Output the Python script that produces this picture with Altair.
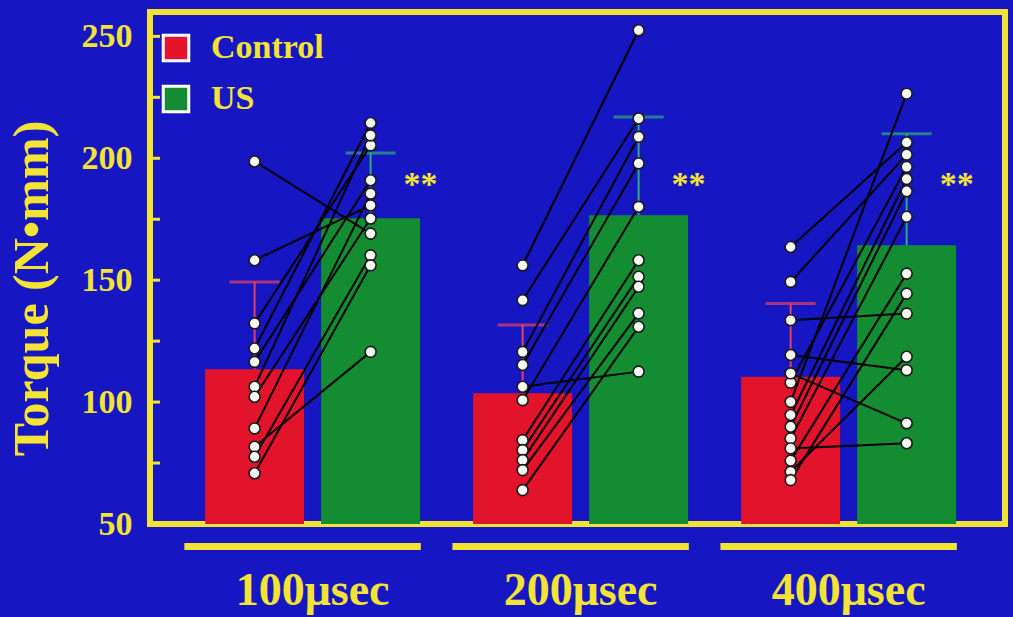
import altair as alt
import pandas as pd

# ---- data -------------------------------------------------------------
groups = ["100μsec", "200μsec", "400μsec"]
conditions = ["Control", "US"]

# paired torque readings (N·mm): entry k of Control pairs with entry k of US
control_100 = [198.7, 158.2, 132.3, 122.0, 116.5, 106.3, 102.2, 89.2, 81.7, 77.6, 70.8]
us_100 = [169.1, 180.7, 205.3, 214.5, 191.0, 209.4, 175.3, 185.5, 120.6, 160.2, 156.1]

control_200 = [156.1, 141.8, 120.6, 115.2, 106.3, 100.8, 84.4, 80.3, 76.2, 72.1, 63.9]
us_200 = [252.5, 216.3, 208.8, 197.9, 112.5, 180.1, 158.2, 151.4, 147.3, 136.4, 130.9]

control_400 = [163.6, 149.3, 133.6, 119.3, 108.0, 111.8, 100.1, 94.7, 89.9, 85.1, 81.0, 76.0, 71.4, 68.0]
us_400 = [206.5, 201.5, 136.3, 113.1, 196.5, 91.3, 226.5, 191.5, 186.5, 176.0, 83.1, 152.7, 118.6, 144.5]

# group means and standard deviations
control_mean = [113.5, 103.6, 110.4]
control_sd = [35.8, 28.0, 30.0]
us_mean = [175.4, 176.6, 164.3]
us_sd = [26.8, 40.3, 45.8]

significance = ["**", "**", "**"]
tick_values = [75, 100, 125, 150, 175, 200, 225, 250]
label_values = [50, 100, 150, 200, 250]

# ---- styling ----------------------------------------------------------
BLUE = "#1616c2"
YELLOW = "#f2e335"
RED = "#e2142c"
GREEN = "#138c32"
ERR_RED = "#e5415e"
ERR_GREEN = "#2fae7c"
SERIF = "Liberation Serif"

# ---- tables -----------------------------------------------------------
paired = {
    "100μsec": (control_100, us_100),
    "200μsec": (control_200, us_200),
    "400μsec": (control_400, us_400),
}
rows = []
for g, (ctrl, us) in paired.items():
    for k, (cv, uv) in enumerate(zip(ctrl, us)):
        sid = f"{g}-{k}"
        rows.append({"group": g, "condition": "Control", "subject": sid, "torque": cv})
        rows.append({"group": g, "condition": "US", "subject": sid, "torque": uv})
points = pd.DataFrame(rows)

summary = pd.DataFrame({
    "group": groups * 2,
    "condition": ["Control"] * 3 + ["US"] * 3,
    "mean": control_mean + us_mean,
    "sd": control_sd + us_sd,
})
summary["upper"] = summary["mean"] + summary["sd"]

stars = pd.DataFrame({"group": groups, "condition": ["US"] * 3, "label": significance})
ticks = pd.DataFrame({"tick": tick_values})
group_df = pd.DataFrame({"group": groups})

# ---- shared scales and axes ---------------------------------------------
x_scale = alt.Scale(domain=groups, paddingInner=0.198, paddingOuter=0.194, align=0.53)
y_scale = alt.Scale(domain=[50, 260], nice=False, zero=False)
Y_TITLE = "Torque (N•mm)"

x_axis = alt.Axis(
    labelAngle=0, domain=False, ticks=False, grid=False,
    labelFont=SERIF, labelFontWeight="bold", labelFontSize=46,
    labelColor=YELLOW, labelPadding=44,
)
y_axis = alt.Axis(
    values=label_values, domain=False, ticks=False, grid=False,
    labelFont=SERIF, labelFontWeight="bold", labelFontSize=34,
    labelColor=YELLOW, labelPadding=18,
    titleFont=SERIF, titleFontWeight="bold", titleFontSize=50,
    titleColor=YELLOW, titlePadding=24, titleY=276,
)


def xg():
    return alt.X("group:N", scale=x_scale, title=None, axis=x_axis)


def yq(field):
    return alt.Y(field, scale=y_scale, title=Y_TITLE, axis=y_axis)


xo_enc = alt.XOffset("condition:N", sort=conditions,
                     scale=alt.Scale(paddingInner=0.147, paddingOuter=0))

bars = alt.Chart(summary).mark_bar().encode(
    x=xg(),
    xOffset=xo_enc,
    y=yq("mean:Q"),
    y2=alt.datum(50),
    color=alt.Color(
        "condition:N",
        scale=alt.Scale(domain=conditions, range=[RED, GREEN]),
        legend=alt.Legend(
            title=None, orient="none", legendX=9, legendY=19, padding=0,
            symbolType="square", symbolSize=650, symbolStrokeColor="white",
            symbolStrokeWidth=3, symbolOpacity=1,
            labelFont=SERIF, labelFontWeight="bold", labelFontSize=34,
            labelColor=YELLOW, labelOffset=18, rowPadding=13,
        ),
    ),
)

err_color = alt.condition("datum.condition === 'Control'", alt.value(ERR_RED), alt.value(ERR_GREEN))

err_rules = alt.Chart(summary).mark_rule(strokeWidth=2).encode(
    x=xg(),
    xOffset=xo_enc,
    y=yq("mean:Q"),
    y2="upper:Q",
    color=err_color,
)

err_caps = alt.Chart(summary).mark_tick(thickness=3, size=50).encode(
    x=xg(),
    xOffset=xo_enc,
    y=yq("upper:Q"),
    color=err_color,
)

lines = alt.Chart(points).mark_line(color="black", strokeWidth=2).encode(
    x=xg(),
    xOffset=xo_enc,
    y=yq("torque:Q"),
    detail="subject:N",
)

dots = alt.Chart(points).mark_point(
    shape="circle", filled=True, size=120, fill="#f6f8f2", fillOpacity=1,
    stroke="#1a1a1a", strokeWidth=1.6,
).encode(
    x=xg(),
    xOffset=xo_enc,
    y=yq("torque:Q"),
)

star_text = alt.Chart(stars).mark_text(
    font=SERIF, fontSize=34, fontWeight="bold", color=YELLOW,
    align="center", baseline="middle", dx=50,
).encode(
    x=xg(),
    xOffset=xo_enc,
    y=alt.datum(189),
    text="label:N",
)

# short inward tick marks on the left frame edge
inner_ticks = alt.Chart(ticks).mark_rule(color=YELLOW, strokeWidth=3).encode(
    y=yq("tick:Q"),
    x=alt.value(0),
    x2=alt.value(10),
)

# yellow bar under each group label
underline = alt.Chart(group_df).mark_bar(
    color=YELLOW, width=alt.RelativeBandSize(1.1), xOffset=-10
).encode(
    x=xg(),
    y=alt.value(531),
    y2=alt.value(538),
)

chart = alt.layer(
    bars, err_rules, err_caps, lines, dots, star_text, inner_ticks, underline
).properties(
    width=855,
    height=512,
    padding={"left": 150, "top": 12, "right": 8, "bottom": 93},
    autosize=alt.AutoSizeParams(type="none"),
    background=BLUE,
).configure_view(
    stroke=YELLOW, strokeWidth=6,
)

chart.save("out.html", embed_options={"renderer": "svg", "actions": False})
